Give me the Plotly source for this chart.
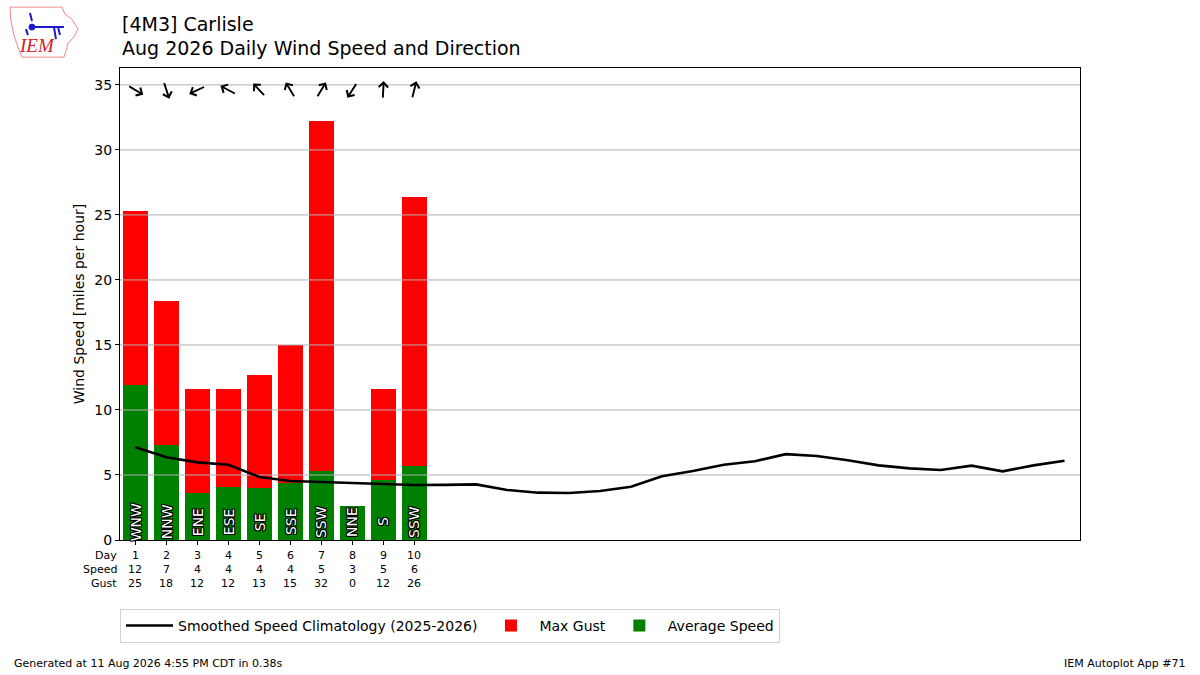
import math
import plotly.graph_objects as go

# --- data ---
days = list(range(1, 32))
obs_days = list(range(1, 11))
avg_speed = [11.9, 7.3, 3.6, 4.05, 4.0, 4.4, 5.3, 2.6, 4.6, 5.7]
max_gust = [25.3, 18.4, 11.6, 11.6, 12.7, 15.0, 32.2, 0, 11.6, 26.4]
dir_deg = [301, 342, 65, 118, 137, 149, 211, 33, 183, 194]
dir_txt = ["WNW", "NNW", "ENE", "ESE", "SE", "SSE", "SSW", "NNE", "S", "SSW"]
clim = [7.13, 6.36, 5.97, 5.79, 4.85, 4.54, 4.46, 4.38, 4.28, 4.23, 4.24,
        4.28, 3.85, 3.64, 3.62, 3.77, 4.1, 4.9, 5.3, 5.79, 6.06, 6.6, 6.46,
        6.13, 5.74, 5.51, 5.38, 5.72, 5.28, 5.74, 6.1]
yticks = [0, 5, 10, 15, 20, 25, 30, 35]
arrow_level = 34.6

FONT = "DejaVu Sans"

fig = go.Figure()

fig.add_trace(go.Bar(x=obs_days, y=max_gust, width=0.8, marker_color="#ff0000",
                     marker_line_width=0, name="Max Gust", legendrank=2))
fig.add_trace(go.Bar(x=obs_days, y=avg_speed, width=0.8, marker_color="#008000",
                     marker_line_width=0, name="Average Speed", legendrank=3))

# grid lines sit above the bars but under the climatology line
for t in yticks[1:]:
    fig.add_trace(go.Scatter(x=[0.5, 31.5], y=[t, t], mode="lines",
                             line=dict(color="#b0b0b0", width=1),
                             showlegend=False, hoverinfo="skip"))

fig.add_trace(go.Scatter(x=days, y=clim, mode="lines", line=dict(color="black", width=2.6),
                         name="Smoothed Speed Climatology (2025-2026)", legendrank=1))

ann = []
# title
ann.append(dict(text="[4M3] Carlisle", x=0, y=1.093, xref="paper", yref="paper",
                xanchor="left", yanchor="middle", showarrow=False,
                font=dict(size=19, color="black")))
ann.append(dict(text="Aug 2026 Daily Wind Speed and Direction", x=0, y=1.042,
                xref="paper", yref="paper", xanchor="left", yanchor="middle",
                showarrow=False, font=dict(size=19, color="black")))

# direction text on bars
outline = ("1px 1px 0 #000, -1px -1px 0 #000, 1px -1px 0 #000, -1px 1px 0 #000, "
           "0 1px 0 #000, 0 -1px 0 #000, 1px 0 0 #000, -1px 0 0 #000")
for d, t in zip(obs_days, dir_txt):
    ann.append(dict(text=t, x=d, y=1.4, xref="x", yref="y", textangle=-90,
                    showarrow=False, font=dict(size=14, color="white", shadow=outline)))

# wind arrows (pointing where the wind blows to)
L = 18
for d, deg in zip(obs_days, dir_deg):
    toward = math.radians(deg + 180)
    u = math.sin(toward)
    v = -math.cos(toward)
    ann.append(dict(text="", x=d, y=arrow_level, xref="x", yref="y", showarrow=True,
                    ax=-L * u, ay=-L * v, xshift=L / 2 * u, yshift=-L / 2 * v,
                    arrowhead=4, arrowsize=0.95, arrowwidth=1.9, arrowcolor="black",
                    standoff=0, startstandoff=0))

# table below the axis
rows = [("Day", obs_days), ("Speed", [f"{v:.0f}" for v in avg_speed]),
        ("Gust", [f"{v:.0f}" for v in max_gust])]
for i, (label, vals) in enumerate(rows):
    shift = -15 - 14 * i
    ann.append(dict(text=label, x=0, y=0, xref="paper", yref="paper", xanchor="right",
                    yanchor="middle", yshift=shift, xshift=-1, showarrow=False,
                    font=dict(size=11, color="black")))
    for d, v in zip(obs_days, vals):
        ann.append(dict(text=str(v), x=d, y=0, xref="x", yref="paper", xanchor="center",
                        yanchor="middle", yshift=shift, showarrow=False,
                        font=dict(size=11, color="black")))

# footer
ann.append(dict(text="Generated at 11 Aug 2026 4:55 PM CDT in 0.38s", x=-0.1125, y=-0.2627,
                xref="paper", yref="paper", xanchor="left", yanchor="middle",
                showarrow=False, font=dict(size=11, color="black")))
ann.append(dict(text="IEM Autoplot App #71", x=1.1125, y=-0.2627, xref="paper", yref="paper",
                xanchor="right", yanchor="middle", showarrow=False,
                font=dict(size=11, color="black")))

# rough IEM logo
ann.append(dict(text="<i>IEM</i>", x=-0.0865, y=1.0487, xref="paper", yref="paper",
                xanchor="center", yanchor="middle", showarrow=False,
                font=dict(size=19, color="#d42020", family="Liberation Serif")))

logo_x, logo_y = -0.1167, 1.129
shapes = [
    dict(type="path", xref="paper", yref="paper", xsizemode="pixel", ysizemode="pixel",
         xanchor=logo_x, yanchor=logo_y,
         path="M 2,0 L 54,0 L 57,-7 L 64,-12 L 70,-22 L 66,-30 L 60,-36 L 58,-44 "
              "L 56,-50 L 14,-50 L 10,-40 L 6,-28 L 3,-14 Z",
         line=dict(color="#ee8888", width=1)),
    dict(type="path", xref="paper", yref="paper", xsizemode="pixel", ysizemode="pixel",
         xanchor=logo_x, yanchor=logo_y,
         path="M 24,-20 L 56,-20 M 46,-20 L 48,-32 M 50,-20 L 52,-28 "
              "M 22,-6 L 24,-14 M 18,-22 L 20,-28",
         line=dict(color="#1a1acc", width=2)),
    dict(type="circle", xref="paper", yref="paper", xsizemode="pixel", ysizemode="pixel",
         xanchor=logo_x, yanchor=logo_y, x0=21, x1=27, y0=-23, y1=-17,
         fillcolor="#1a1acc", line=dict(color="#1a1acc", width=1)),
]

fig.update_layout(
    width=1200, height=675,
    margin=dict(l=120, r=120, t=68, b=135),
    paper_bgcolor="white", plot_bgcolor="white",
    font=dict(family=FONT, color="black", size=13),
    barmode="overlay", bargap=0,
    showlegend=True,
    legend=dict(orientation="h", x=0, y=-0.146, xanchor="left", yanchor="top",
                bordercolor="#d0d0d0", borderwidth=1, font=dict(size=14),
                traceorder="normal", itemwidth=47),
    annotations=ann, shapes=shapes,
    xaxis=dict(range=[0.5, 31.5], tickvals=obs_days, ticktext=[""] * len(obs_days),
               ticks="outside", ticklen=4, tickcolor="black", showgrid=False,
               showline=True, linecolor="black", linewidth=1, mirror=True, zeroline=False),
    yaxis=dict(range=[0, 36.3], tickvals=yticks, ticks="outside", ticklen=4,
               tickcolor="black", tickfont=dict(size=14), showgrid=False, showline=True,
               linecolor="black", linewidth=1, mirror=True, zeroline=False,
               title=dict(text="Wind Speed [miles per hour]", font=dict(size=14), standoff=6)),
)

fig.write_html("out.html", config={"displayModeBar": False},
               post_script="document.body.style.margin='0px';")
